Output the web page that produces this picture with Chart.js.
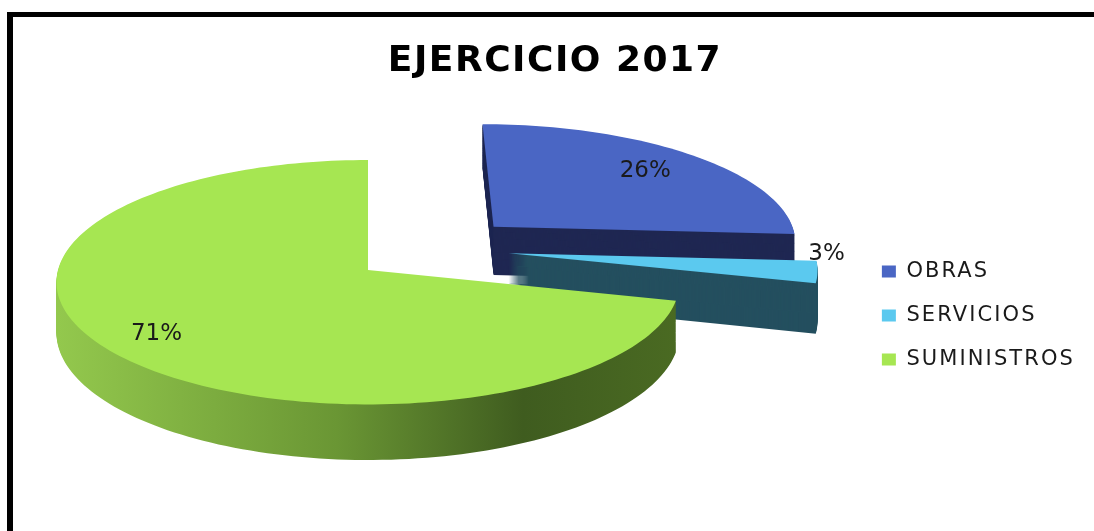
<!DOCTYPE html>
<html>
<head>
<meta charset="utf-8">
<script src="https://cdn.jsdelivr.net/npm/chart.js@4.4.1/dist/chart.umd.min.js"></script>
<style>
  html, body { margin: 0; padding: 0; background: #fff; }
  #wrap { width: 1094px; height: 531px; position: relative; }
</style>
</head>
<body>
<div id="wrap"><canvas id="pieChart"></canvas></div>
<script>
const chartTitle = 'EJERCICIO 2017';
const categories = ['OBRAS', 'SERVICIOS', 'SUMINISTROS'];
const shares = [26, 3, 71];

// look of the slices
const topColors = ['#4a66c4', '#5bc9ef', '#a6e652'];
const sideColors = ['#1f2752', '#244f5f', null];   // green side gets a gradient
const explode = [[0.42, -0.37], [0.46, -0.14], [0, 0]];

// tilted pie: centre, radii, thickness and a bit of perspective
const PIE = { cx: 368, cy: 270, rx: 310, ry: 121, depth: 50, persp: 0.1 };

function project(u, v, d) {
    const s = 1 / (1 - PIE.persp * v);
    return [PIE.cx + u * PIE.rx * s, PIE.cy + v * PIE.ry * s + d * s];
}

function slicePoints(arc, i) {
    const [ou, ov] = explode[i];
    const pts = [[ou, ov]];
    const span = arc.endAngle - arc.startAngle;
    const n = Math.max(2, Math.ceil(span / (Math.PI / 120)));
    for (let k = 0; k <= n; k++) {
        const a = arc.startAngle + span * k / n;
        pts.push([ou + Math.cos(a), ov + Math.sin(a)]);
    }
    return pts;
}

function fillPts(ctx, pts, d) {
    ctx.beginPath();
    pts.forEach(([u, v], k) => {
        const [x, y] = project(u, v, d);
        if (k) ctx.lineTo(x, y); else ctx.moveTo(x, y);
    });
    ctx.closePath();
    ctx.fill();
}

// wrap a box method so its text is drawn (and measured) with letter spacing
function spaced(box, spacing) {
    if (!box || box._spaced) return;
    const wrap = fn => function (...args) {
        const c = this.ctx;
        c.save();
        c.letterSpacing = spacing;
        const r = fn.apply(this, args);
        c.restore();
        return r;
    };
    box.fit = wrap(box.fit);
    box.draw = wrap(box.draw);
    box._spaced = true;
}

const pie3d = {
    id: 'pie3d',
    beforeUpdate(chart) {
        spaced(chart.legend, '2.1px');
        spaced(chart.titleBlock, '1.5px');
    },
    beforeDatasetsDraw(chart) {
        const ctx = chart.ctx;
        const arcs = chart.getDatasetMeta(0).data;
        const total = shares.reduce((a, b) => a + b, 0);
        ctx.save();
        arcs.forEach((arc, i) => {
            const pts = slicePoints(arc, i);
            let side = sideColors[i];
            if (!side) {
                side = ctx.createLinearGradient(PIE.cx - PIE.rx, 0, PIE.cx + PIE.rx, 0);
                side.addColorStop(0, '#93c84d');
                side.addColorStop(0.45, '#6a9634');
                side.addColorStop(0.75, '#3f5c1f');
                side.addColorStop(1, '#4a6a22');
            }
            ctx.fillStyle = side;
            for (let d = PIE.depth; d >= 1; d--) fillPts(ctx, pts, d);
            ctx.fillStyle = topColors[i];
            fillPts(ctx, pts, 0);
        });

        // percentage labels
        ctx.font = '23px "DejaVu Sans"';
        ctx.fillStyle = '#1a1a1a';
        ctx.textAlign = 'center';
        ctx.textBaseline = 'middle';
        arcs.forEach((arc, i) => {
            const pct = Math.round(shares[i] / total * 100);
            const mid = (arc.startAngle + arc.endAngle) / 2;
            const [ou, ov] = explode[i];
            let x, y;
            if (pct < 5) {
                [x, y] = project(ou + Math.cos(mid), ov + Math.sin(mid), 0);
                x += 9; y -= 18;
            } else {
                const r = i === 0 ? 0.76 : 0.82;
                [x, y] = project(ou + r * Math.cos(mid), ov + r * Math.sin(mid), 0);
            }
            ctx.fillText(pct + '%', x, y);
        });
        ctx.restore();
        return false;
    },
    afterDraw(chart) {
        const ctx = chart.ctx;
        ctx.save();
        ctx.fillStyle = '#000';
        ctx.fillRect(7, 12, 1094, 5);
        ctx.fillRect(7, 12, 6, 531);
        ctx.restore();
    }
};

new Chart(document.getElementById('pieChart').getContext('2d'), {
    type: 'pie',
    data: {
        labels: categories,
        datasets: [{
            data: shares,
            backgroundColor: topColors,
            borderWidth: 0
        }]
    },
    options: {
        responsive: true,
        maintainAspectRatio: false,
        animation: false,
        events: [],
        layout: { padding: { left: 25, right: 9, top: 0, bottom: 5 } },
        plugins: {
            title: {
                display: true,
                text: chartTitle,
                color: '#000',
                font: { family: 'DejaVu Sans', size: 36, weight: 'bold' },
                padding: { top: 40, bottom: 22 }
            },
            legend: {
                position: 'right',
                fullSize: false,
                labels: {
                    boxWidth: 14,
                    boxHeight: 12,
                    padding: 23,
                    color: '#1a1a1a',
                    font: { family: 'DejaVu Sans', size: 21 }
                }
            },
            tooltip: { enabled: false }
        }
    },
    plugins: [pie3d]
});
</script>
</body>
</html>
